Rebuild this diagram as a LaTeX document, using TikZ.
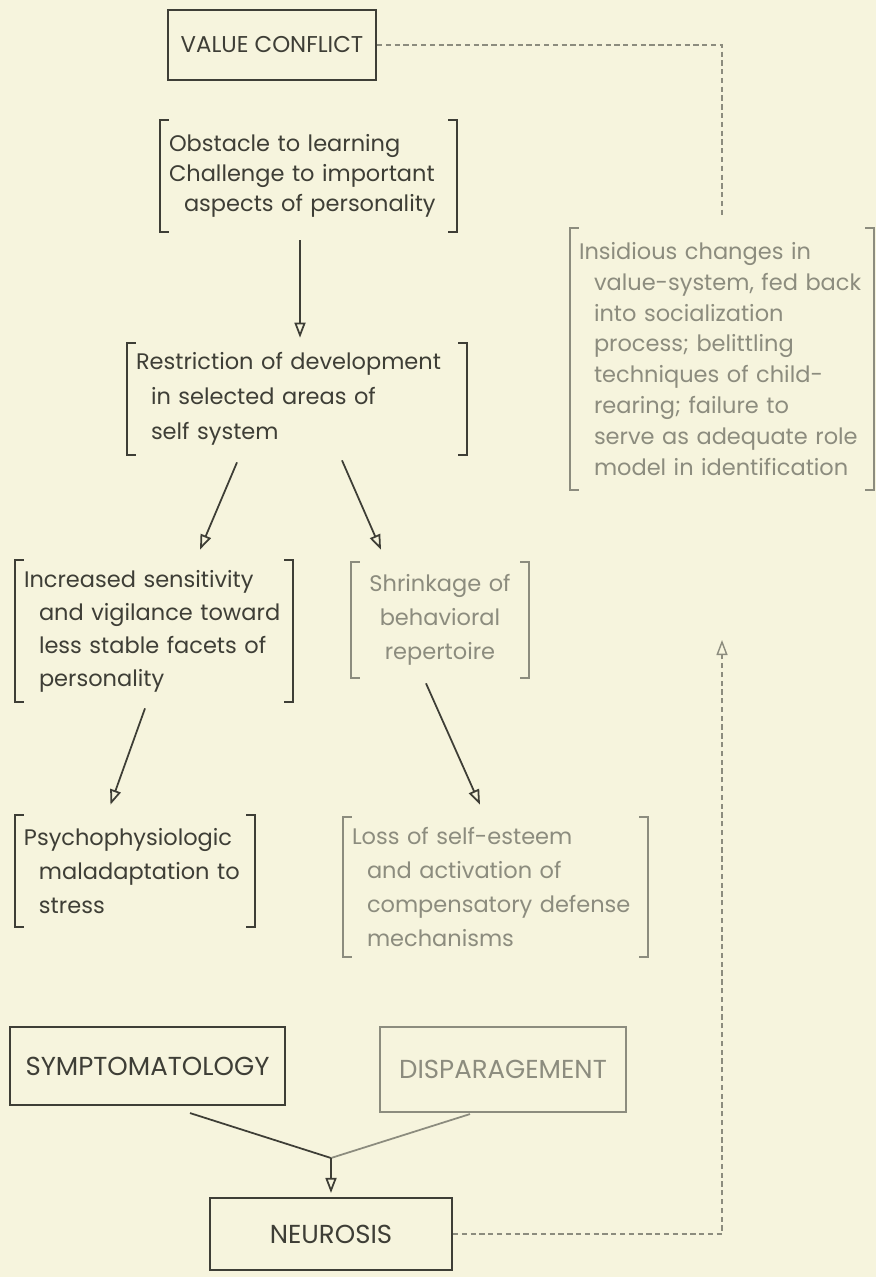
\documentclass[tikz,border=0pt]{standalone}
\usepackage{fontspec}
\setmainfont{Poppins}
\usetikzlibrary{arrows.meta}

\definecolor{paper}{RGB}{246,244,221}
\definecolor{ink}{RGB}{62,62,54}
\definecolor{faded}{RGB}{140,140,126}
\def\ind{\hspace*{0.3cm}}
\def\brackets#1#2{%
  \draw[brk,#2] ([xshift=0.18cm]#1.north west) -- (#1.north west) -- (#1.south west) -- ([xshift=0.18cm]#1.south west);
  \draw[brk,#2] ([xshift=-0.18cm]#1.north east) -- (#1.north east) -- (#1.south east) -- ([xshift=-0.18cm]#1.south east);}

\begin{document}
\begin{tikzpicture}[box/.style={draw=ink,line width=1.2pt,text=ink,inner sep=0pt,
    font=\fontsize{14.8}{16}\selectfont},
  txt/.style={text=ink,align=left,inner xsep=0.18cm,inner ysep=0pt},
  brk/.style={line width=1pt},
  arr/.style={draw=ink,line width=1pt,-{Triangle[open,length=0.3cm,width=0.22cm]}},
  fb/.style={draw=faded,line width=0.8pt,dash pattern=on 3pt off 2pt}]
  \fill[paper] (0,0) rectangle (17.52,-25.54);
  \useasboundingbox (0,0) rectangle (17.52,-25.54);

  % top of the chain
  \node[box,font=\fontsize{13}{15}\selectfont,minimum width=4.16cm,minimum height=1.4cm] (val) at (5.44,-0.9) {VALUE CONFLICT};
  \node[txt,text width=5.58cm,minimum height=2.24cm,font=\fontsize{12.8}{17}\selectfont] (obst) at (6.17,-3.52)
    {Obstacle to learning\\Challenge to important\\\ind aspects of personality};
  \node[txt,text width=6.44cm,minimum height=2.24cm,font=\fontsize{12.8}{19.9}\selectfont] (restr) at (5.94,-7.98)
    {Restriction of development\\\ind in selected areas of\\\ind self system};
  \node[txt,text=faded,text width=5.72cm,minimum height=5.24cm,font=\fontsize{12.8}{17.6}\selectfont] (insid) at (14.44,-7.18)
    {Insidious changes in\\\ind value-system, fed back\\\ind into socialization\\\ind process; belittling\\\ind techniques of child-\\\ind rearing; failure to\\\ind serve as adequate role\\\ind model in identification};

  % two branches
  \node[txt,text width=5.2cm,minimum height=2.84cm,font=\fontsize{12.8}{18.8}\selectfont] (incr) at (3.08,-12.62)
    {Increased sensitivity\\\ind and vigilance toward\\\ind less stable facets of\\\ind personality};
  \node[txt,text=faded,align=center,text width=3.2cm,minimum height=2.32cm,font=\fontsize{12.8}{19.3}\selectfont] (shrink) at (8.8,-12.4)
    {Shrinkage of\\behavioral\\repertoire};
  \node[txt,text width=4.44cm,minimum height=2.24cm,font=\fontsize{12.8}{19.3}\selectfont] (psycho) at (2.7,-17.42)
    {Psychophysiologic\\\ind maladaptation to\\\ind stress};
  \node[txt,text=faded,text width=5.74cm,minimum height=2.8cm,font=\fontsize{12.8}{19.3}\selectfont] (loss) at (9.91,-17.74)
    {Loss of self-esteem\\\ind and activation of\\\ind compensatory defense\\\ind mechanisms};

  \foreach \n/\c in {obst/ink,restr/ink,incr/ink,psycho/ink,shrink/faded,loss/faded,insid/faded}
    \brackets{\n}{\c};

  % outcome
  \node[box,minimum width=5.5cm,minimum height=1.56cm] (symp) at (2.95,-21.32) {SYMPTOMATOLOGY};
  \node[box,draw=faded,text=faded,minimum width=4.92cm,minimum height=1.7cm] (disp) at (10.06,-21.39) {DISPARAGEMENT};
  \node[box,minimum width=4.84cm,minimum height=1.44cm] (neur) at (6.62,-24.68) {NEUROSIS};
  \coordinate (join) at (6.62,-23.16);
  \coordinate (fbtip) at (14.44,-12.8);

  \draw[arr] ([xshift=-0.17cm,yshift=-0.16cm]obst.south) -- ([xshift=-0.17cm,yshift=0.1cm]obst.south |- restr.north);
  \draw[arr] ([xshift=-1.2cm,yshift=-0.14cm]restr.south) -- ([xshift=0.92cm,yshift=0.2cm]incr.north);
  \draw[arr] ([xshift=0.9cm,yshift=-0.1cm]restr.south) -- ([xshift=-1.18cm,yshift=0.24cm]shrink.north);
  \draw[arr] ([xshift=-0.18cm,yshift=-0.12cm]incr.south) -- ([xshift=-0.49cm,yshift=0.2cm]psycho.north);
  \draw[arr] ([xshift=-0.28cm,yshift=-0.1cm]shrink.south) -- ([xshift=-0.31cm,yshift=0.24cm]loss.north);
  \draw[ink,line width=1pt] ([xshift=0.85cm,yshift=-0.14cm]symp.south) -- (join);
  \draw[faded,line width=1pt] ([xshift=-0.66cm,yshift=-0.02cm]disp.south) -- (join);
  \draw[arr] (join) -- ([yshift=0.08cm]neur.north);

  % feedback loop
  \draw[fb] (val.east) -| ([yshift=0.26cm]insid.north);
  \draw[fb,-{Triangle[open,length=0.3cm,width=0.22cm]}] (neur.east) -| (fbtip);
\end{tikzpicture}
\end{document}
